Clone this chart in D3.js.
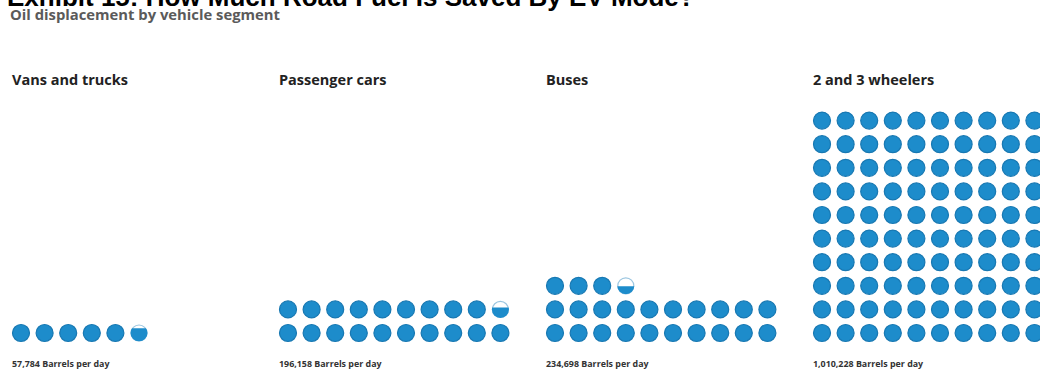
<!DOCTYPE html>
<html>
<head>
<meta charset="utf-8">
<script src="https://cdn.jsdelivr.net/npm/d3@7"></script>
<style>
  html, body { margin: 0; padding: 0; background: #fff; }
  svg { display: block; }
</style>
</head>
<body>
<div id="chart"></div>
<script>
// Oil displacement by vehicle segment, one dot = 10,000 barrels per day
const titleText = "Exhibit 15: How Much Road Fuel Is Saved By EV Mode?";
const subtitleText = "Oil displacement by vehicle segment";
const segments = ["Vans and trucks", "Passenger cars", "Buses", "2 and 3 wheelers"];
const barrelsPerDay = [57784, 196158, 234698, 1010228];
const unitLabel = "Barrels per day";
const barrelsPerDot = 10000;
const dotsPerRow = 10;
const maxRows = 10;

const W = 1040, H = 371;
const blue = "#1d8ccb", blueEdge = "#1878b2", emptyEdge = "#9cc6e0";
const r = 8.5, pitch = 23.6;

const svg = d3.select("#chart").append("svg")
  .attr("width", W).attr("height", H);

svg.append("text")
  .attr("x", 7).attr("y", 5.5)
  .attr("font-family", "Liberation Sans, Arial, sans-serif")
  .attr("font-weight", 700).attr("font-size", 26)
  .attr("fill", "#000")
  .text(titleText);

svg.append("text")
  .attr("x", 10).attr("y", 20)
  .attr("font-family", "Open Sans, sans-serif")
  .attr("font-weight", 700).attr("font-size", 14.8)
  .attr("fill", "#5a5a5a")
  .text(subtitleText);

// one panel per segment
const panelX = d3.scaleBand().domain(segments).range([12, 12 + 267 * 4]).paddingInner(0).paddingOuter(0);
const colX = d3.scaleLinear().domain([0, 1]).range([r + 0.5, r + 0.5 + pitch]);
const rowY = d3.scaleLinear().domain([0, 1]).range([333, 333 - pitch]);
const fmt = d3.format(",");

const defs = svg.append("defs");

segments.forEach((seg, si) => {
  const x0 = panelX(seg);
  const g = svg.append("g").attr("transform", `translate(${x0},0)`);

  g.append("text")
    .attr("x", 0).attr("y", 85)
    .attr("font-family", "Open Sans, sans-serif")
    .attr("font-weight", 700).attr("font-size", 14.5)
    .attr("fill", "#222")
    .text(seg);

  g.append("text")
    .attr("x", 0).attr("y", 366.5)
    .attr("font-family", "Open Sans, sans-serif")
    .attr("font-weight", 700).attr("font-size", 8.9)
    .attr("fill", "#333")
    .text(`${fmt(barrelsPerDay[si])} ${unitLabel}`);

  const units = barrelsPerDay[si] / barrelsPerDot;
  const n = Math.ceil(units);
  // fill bottom-up, ten per row; past ten rows the grid continues in a new block to the right
  const dots = d3.range(n).map(i => {
    const block = Math.floor(i / (dotsPerRow * maxRows));
    return {
      col: block * dotsPerRow + (i % dotsPerRow),
      row: Math.floor(i / dotsPerRow) % maxRows,
      frac: Math.min(1, units - i)
    };
  });

  const full = dots.filter(d => d.frac >= 1);
  const part = dots.filter(d => d.frac < 1);

  g.selectAll("circle.full").data(full).join("circle")
    .attr("class", "full")
    .attr("cx", d => colX(d.col)).attr("cy", d => rowY(d.row))
    .attr("r", r)
    .attr("fill", blue).attr("stroke", blueEdge).attr("stroke-width", 1.2);

  // partially filled dot: outline plus a blue fill rising from the bottom
  part.forEach((d, pi) => {
    const cx = colX(d.col), cy = rowY(d.row);
    const id = `clip-${si}-${pi}`;
    defs.append("clipPath").attr("id", id)
      .append("rect")
      .attr("x", cx - r - 1)
      .attr("y", cy + r - 2 * r * d.frac)
      .attr("width", 2 * r + 2)
      .attr("height", 2 * r * d.frac);
    g.append("circle")
      .attr("cx", cx).attr("cy", cy).attr("r", r - 0.5)
      .attr("fill", "#fff").attr("stroke", emptyEdge).attr("stroke-width", 1.2);
    g.append("circle")
      .attr("cx", cx).attr("cy", cy).attr("r", r)
      .attr("fill", blue)
      .attr("clip-path", `url(#${id})`);
  });
});
</script>
</body>
</html>
